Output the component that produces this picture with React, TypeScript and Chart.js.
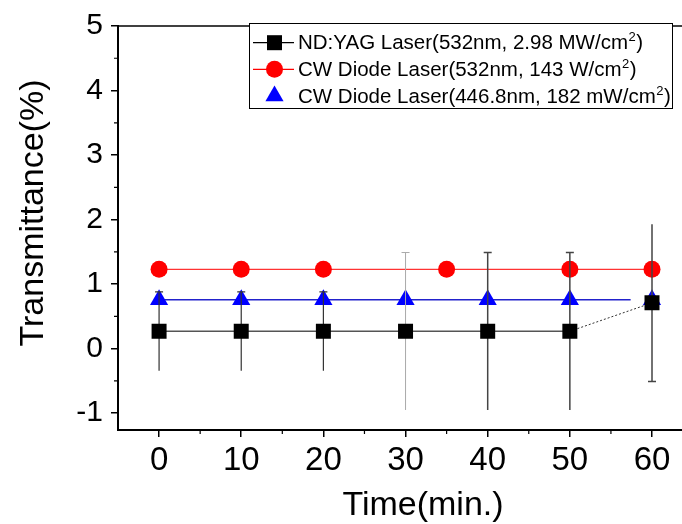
import React, { useEffect, useRef } from 'react';
import { Chart, registerables } from 'chart.js';

Chart.register(...registerables);

// ---- data ----
const times = [0, 10, 20, 30, 40, 50, 60];
const ndYagValues = [0.27, 0.27, 0.27, 0.27, 0.27, 0.27, 0.71];
const ndYagErrors = [0.61, 0.61, 0.61, 1.22, 1.22, 1.22, 1.22];
const redTimes = [0, 10, 20, 35, 50, 60];
const redValues = [1.23, 1.23, 1.23, 1.23, 1.23, 1.23];
const blueTimes = [0, 10, 20, 30, 40, 50, 60];
const blueValues = [0.76, 0.76, 0.76, 0.76, 0.76, 0.76, 0.76];
const blueLineTimes = [0, 57.4];
const blueLineValues = [0.76, 0.76];
const xTicks = [0, 10, 20, 30, 40, 50, 60];
const yTicks = [-1, 0, 1, 2, 3, 4, 5];
const xMinorTicks = [5, 15, 25, 35, 45, 55];
const yMinorTicks = [-0.5, 0.5, 1.5, 2.5, 3.5, 4.5];
const xTitle = 'Time(min.)';
const yTitle = 'Transmittance(%)';
const legendLabels: [string, string, string][] = [
  ['ND:YAG Laser(532nm, 2.98 MW/cm', '2', ')'],
  ['CW Diode Laser(532nm, 143 W/cm', '2', ')'],
  ['CW Diode Laser(446.8nm, 182 mW/cm', '2', ')'],
];

// ---- styles ----
const FONT = '"Liberation Sans", Arial, sans-serif';
const errColors = ['#333', '#333', '#333', '#aaa', '#444', '#444', '#444'];
const errWidths = [1.2, 1.2, 1.2, 1, 1.5, 1.5, 1.5];
const capTop = [true, true, true, true, true, true, false];
const capBottom = [false, false, false, false, false, false, true];

const pts = (xs: number[], ys: number[]) => xs.map((x, i) => ({ x, y: ys[i] }));

function drawErrorBars(chart: any) {
  const { ctx, scales } = chart;
  const xs = scales.x;
  const ys = scales.y;
  ctx.save();
  times.forEach((t, i) => {
    const px = xs.getPixelForValue(t);
    const top = ys.getPixelForValue(ndYagValues[i] + ndYagErrors[i]);
    const bot = ys.getPixelForValue(ndYagValues[i] - ndYagErrors[i]);
    ctx.strokeStyle = errColors[i];
    ctx.lineWidth = errWidths[i];
    ctx.beginPath();
    ctx.moveTo(px, top);
    ctx.lineTo(px, bot);
    if (capTop[i]) {
      ctx.moveTo(px - 4, top);
      ctx.lineTo(px + 4, top);
    }
    if (capBottom[i]) {
      ctx.moveTo(px - 4, bot);
      ctx.lineTo(px + 4, bot);
    }
    ctx.stroke();
  });
  ctx.restore();
}

function drawMarker(ctx: CanvasRenderingContext2D, kind: number, x: number, y: number) {
  ctx.beginPath();
  if (kind === 0) {
    ctx.fillStyle = '#000';
    ctx.fillRect(x - 7.5, y - 7.5, 15, 15);
  } else if (kind === 1) {
    ctx.fillStyle = '#ff0000';
    ctx.arc(x, y, 8.5, 0, Math.PI * 2);
    ctx.fill();
  } else {
    ctx.fillStyle = '#0000ff';
    const r = 10.5;
    ctx.moveTo(x, y - r);
    ctx.lineTo(x + r * 0.866, y + r / 2);
    ctx.lineTo(x - r * 0.866, y + r / 2);
    ctx.closePath();
    ctx.fill();
  }
}

const decorPlugin = {
  id: 'decor',
  afterDatasetDraw(chart: any, args: any) {
    if (args.index === 1) drawErrorBars(chart);
  },
  afterDraw(chart: any) {
    const { ctx, chartArea, scales } = chart;
    ctx.save();
    // top frame line
    ctx.strokeStyle = '#000';
    ctx.lineWidth = 1.5;
    ctx.beginPath();
    ctx.moveTo(chartArea.left, chartArea.top);
    ctx.lineTo(chartArea.right, chartArea.top);
    ctx.stroke();
    // minor ticks
    ctx.lineWidth = 1.2;
    ctx.beginPath();
    xMinorTicks.forEach((v) => {
      const px = scales.x.getPixelForValue(v);
      ctx.moveTo(px, chartArea.bottom);
      ctx.lineTo(px, chartArea.bottom + 4);
    });
    yMinorTicks.forEach((v) => {
      const py = scales.y.getPixelForValue(v);
      ctx.moveTo(chartArea.left, py);
      ctx.lineTo(chartArea.left - 4, py);
    });
    ctx.stroke();
    // axis titles
    ctx.fillStyle = '#000';
    ctx.font = `34px ${FONT}`;
    ctx.textAlign = 'center';
    ctx.textBaseline = 'alphabetic';
    ctx.fillText(xTitle, 423, 515);
    ctx.save();
    ctx.translate(43, 213);
    ctx.rotate(-Math.PI / 2);
    ctx.fillText(yTitle, 0, 0);
    ctx.restore();
    // legend
    const bx = 249.5, by = 23.5, bw = 423, bh = 85;
    ctx.fillStyle = '#fff';
    ctx.fillRect(bx, by, bw, bh);
    ctx.strokeStyle = '#000';
    ctx.lineWidth = 1;
    ctx.strokeRect(bx, by, bw, bh);
    const rowMarkerY = [42.7, 69.3, 96];
    const rowBase = [48.5, 76, 103];
    const lineColors = ['#000', '#ff0000', null];
    legendLabels.forEach((lab, i) => {
      const lc = lineColors[i];
      if (lc) {
        ctx.strokeStyle = lc;
        ctx.lineWidth = 1.2;
        ctx.beginPath();
        ctx.moveTo(253, rowMarkerY[i]);
        ctx.lineTo(294, rowMarkerY[i]);
        ctx.stroke();
      }
      drawMarker(ctx, i, 274.5, rowMarkerY[i]);
      ctx.fillStyle = '#000';
      ctx.textAlign = 'left';
      ctx.font = `20.5px ${FONT}`;
      let x = 298;
      ctx.fillText(lab[0], x, rowBase[i]);
      x += ctx.measureText(lab[0]).width;
      ctx.font = `13px ${FONT}`;
      ctx.fillText(lab[1], x + 0.5, rowBase[i] - 8);
      x += ctx.measureText(lab[1]).width + 1;
      ctx.font = `20.5px ${FONT}`;
      ctx.fillText(lab[2], x, rowBase[i]);
    });
    ctx.restore();
  },
};

export default function App() {
  const ref = useRef<HTMLCanvasElement | null>(null);
  useEffect(() => {
    if (!ref.current) return;
    const chart = new Chart(ref.current, {
      type: 'line',
      data: {
        datasets: [
          {
            label: 'ND:YAG',
            data: pts(times, ndYagValues),
            borderColor: '#555',
            borderWidth: 1.5,
            pointStyle: 'rect',
            pointRadius: 10.6,
            pointBackgroundColor: '#000',
            pointBorderWidth: 0,
            segment: {
              borderDash: (c: any) => (c.p0DataIndex === 5 ? [2, 2] : undefined),
              borderWidth: (c: any) => (c.p0DataIndex === 5 ? 1 : undefined),
              borderColor: (c: any) => (c.p0DataIndex === 5 ? '#333' : undefined),
            },
          },
          {
            label: 'CW 532',
            data: pts(redTimes, redValues),
            borderColor: '#ff0000',
            borderWidth: 1,
            pointStyle: 'circle',
            pointRadius: 8.5,
            pointBackgroundColor: '#ff0000',
            pointBorderWidth: 0,
          },
          {
            label: 'CW 446.8',
            data: pts(blueTimes, blueValues),
            showLine: false,
            pointStyle: 'triangle',
            pointRadius: 10.5,
            pointBackgroundColor: '#0000ff',
            pointBorderWidth: 0,
          },
          {
            label: 'CW 446.8 line',
            data: pts(blueLineTimes, blueLineValues),
            borderColor: '#2222cc',
            borderWidth: 1.5,
            pointRadius: 0,
          },
        ],
      },
      options: {
        animation: false,
        responsive: false,
        devicePixelRatio: 1,
        layout: { padding: { top: 23, left: 0, right: 0, bottom: 0 } },
        plugins: { legend: { display: false }, tooltip: { enabled: false } },
        scales: {
          x: {
            type: 'linear',
            min: -5,
            max: 63.7,
            afterBuildTicks: (s: any) => {
              s.ticks = xTicks.map((v) => ({ value: v }));
            },
            afterFit: (s: any) => {
              s.height = 94;
            },
            grid: { drawOnChartArea: false, drawTicks: true, tickLength: 7, color: '#000', lineWidth: 1.5 },
            border: { color: '#000', width: 2 },
            ticks: { font: { family: FONT, size: 33 }, color: '#000', padding: 4, maxRotation: 0, autoSkip: false },
          },
          y: {
            type: 'linear',
            min: -1.26,
            max: 5,
            afterBuildTicks: (s: any) => {
              s.ticks = yTicks.map((v) => ({ value: v }));
            },
            afterFit: (s: any) => {
              s.width = 118;
            },
            grid: { drawOnChartArea: false, drawTicks: true, tickLength: 7, color: '#000', lineWidth: 1.5 },
            border: { color: '#000', width: 2 },
            ticks: { font: { family: FONT, size: 30 }, color: '#000', padding: 8, autoSkip: false },
          },
        },
      },
      plugins: [decorPlugin],
    });
    return () => chart.destroy();
  }, []);
  return (
    <div style={{ position: 'fixed', left: 0, top: 0, width: 682, height: 524, overflow: 'hidden', background: '#fff' }}>
      <div style={{ width: 693, height: 524 }}>
        <canvas ref={ref} width={693} height={524} style={{ width: 693, height: 524, display: 'block' }} />
      </div>
    </div>
  );
}
